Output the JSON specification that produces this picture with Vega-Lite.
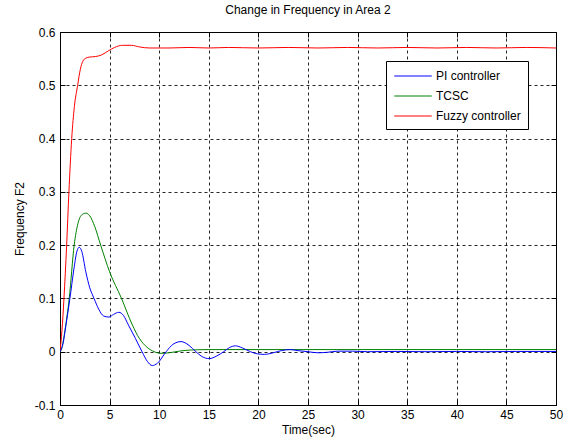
{
  "$schema": "https://vega.github.io/schema/vega-lite/v6.json",
  "width": 496,
  "height": 373,
  "autosize": {"type": "none"},
  "padding": {"left": 60, "top": 32, "right": 11, "bottom": 39},
  "background": "white",
  "title": {"text": "Change in Frequency in Area 2", "fontSize": 12, "fontWeight": "normal", "font": "Liberation Sans", "color": "black", "offset": 9, "anchor": "middle"},
  "config": {
    "view": {"stroke": "black", "strokeWidth": 1},
    "axis": {"labelFont": "Liberation Sans", "labelFontSize": 12, "labelColor": "black", "titleFont": "Liberation Sans", "titleFontSize": 12, "titleFontWeight": "normal", "titleColor": "black", "domainColor": "black", "tickColor": "black", "gridColor": "black", "gridDash": [3, 3], "gridOpacity": 0.85}
  },
  "data": {"values": [
    {"t": 0, "v": 0, "s": "Fuzzy controller"},
    {"t": 0.2, "v": 0.04, "s": "Fuzzy controller"},
    {"t": 0.4, "v": 0.1, "s": "Fuzzy controller"},
    {"t": 0.67, "v": 0.2, "s": "Fuzzy controller"},
    {"t": 0.9, "v": 0.3, "s": "Fuzzy controller"},
    {"t": 1.18, "v": 0.4, "s": "Fuzzy controller"},
    {"t": 1.45, "v": 0.46, "s": "Fuzzy controller"},
    {"t": 1.78, "v": 0.5, "s": "Fuzzy controller"},
    {"t": 2.05, "v": 0.53, "s": "Fuzzy controller"},
    {"t": 2.3, "v": 0.545, "s": "Fuzzy controller"},
    {"t": 2.6, "v": 0.551, "s": "Fuzzy controller"},
    {"t": 3.0, "v": 0.553, "s": "Fuzzy controller"},
    {"t": 3.6, "v": 0.554, "s": "Fuzzy controller"},
    {"t": 4.2, "v": 0.557, "s": "Fuzzy controller"},
    {"t": 4.9, "v": 0.565, "s": "Fuzzy controller"},
    {"t": 5.5, "v": 0.571, "s": "Fuzzy controller"},
    {"t": 6.3, "v": 0.575, "s": "Fuzzy controller"},
    {"t": 7.2, "v": 0.575, "s": "Fuzzy controller"},
    {"t": 8.0, "v": 0.572, "s": "Fuzzy controller"},
    {"t": 9.0, "v": 0.57, "s": "Fuzzy controller"},
    {"t": 11.0, "v": 0.57, "s": "Fuzzy controller"},
    {"t": 13.0, "v": 0.571, "s": "Fuzzy controller"},
    {"t": 15.0, "v": 0.57, "s": "Fuzzy controller"},
    {"t": 17.0, "v": 0.571, "s": "Fuzzy controller"},
    {"t": 20.0, "v": 0.57, "s": "Fuzzy controller"},
    {"t": 23.0, "v": 0.571, "s": "Fuzzy controller"},
    {"t": 26.0, "v": 0.57, "s": "Fuzzy controller"},
    {"t": 29.0, "v": 0.571, "s": "Fuzzy controller"},
    {"t": 32.0, "v": 0.57, "s": "Fuzzy controller"},
    {"t": 35.0, "v": 0.571, "s": "Fuzzy controller"},
    {"t": 38.0, "v": 0.57, "s": "Fuzzy controller"},
    {"t": 41.0, "v": 0.571, "s": "Fuzzy controller"},
    {"t": 44.0, "v": 0.57, "s": "Fuzzy controller"},
    {"t": 47.0, "v": 0.571, "s": "Fuzzy controller"},
    {"t": 50.0, "v": 0.57, "s": "Fuzzy controller"},

    {"t": 0, "v": 0, "s": "TCSC"},
    {"t": 0.2, "v": 0.008, "s": "TCSC"},
    {"t": 0.5, "v": 0.04, "s": "TCSC"},
    {"t": 0.93, "v": 0.1, "s": "TCSC"},
    {"t": 1.43, "v": 0.2, "s": "TCSC"},
    {"t": 1.8, "v": 0.24, "s": "TCSC"},
    {"t": 2.2, "v": 0.257, "s": "TCSC"},
    {"t": 2.6, "v": 0.26, "s": "TCSC"},
    {"t": 3.0, "v": 0.255, "s": "TCSC"},
    {"t": 3.5, "v": 0.235, "s": "TCSC"},
    {"t": 4.1, "v": 0.2, "s": "TCSC"},
    {"t": 5.0, "v": 0.15, "s": "TCSC"},
    {"t": 6.2, "v": 0.1, "s": "TCSC"},
    {"t": 7.3, "v": 0.05, "s": "TCSC"},
    {"t": 8.0, "v": 0.025, "s": "TCSC"},
    {"t": 8.8, "v": 0.008, "s": "TCSC"},
    {"t": 9.5, "v": 0.0, "s": "TCSC"},
    {"t": 10.2, "v": -0.003, "s": "TCSC"},
    {"t": 11.0, "v": -0.002, "s": "TCSC"},
    {"t": 12.0, "v": 0.001, "s": "TCSC"},
    {"t": 13.0, "v": 0.003, "s": "TCSC"},
    {"t": 15.0, "v": 0.004, "s": "TCSC"},
    {"t": 20.0, "v": 0.004, "s": "TCSC"},
    {"t": 30.0, "v": 0.004, "s": "TCSC"},
    {"t": 40.0, "v": 0.004, "s": "TCSC"},
    {"t": 50.0, "v": 0.004, "s": "TCSC"},

    {"t": 0, "v": 0, "s": "PI controller"},
    {"t": 0.3, "v": 0.015, "s": "PI controller"},
    {"t": 0.6, "v": 0.05, "s": "PI controller"},
    {"t": 1.0, "v": 0.1, "s": "PI controller"},
    {"t": 1.4, "v": 0.155, "s": "PI controller"},
    {"t": 1.7, "v": 0.188, "s": "PI controller"},
    {"t": 1.93, "v": 0.196, "s": "PI controller"},
    {"t": 2.2, "v": 0.188, "s": "PI controller"},
    {"t": 2.6, "v": 0.15, "s": "PI controller"},
    {"t": 3.0, "v": 0.12, "s": "PI controller"},
    {"t": 3.43, "v": 0.1, "s": "PI controller"},
    {"t": 3.9, "v": 0.08, "s": "PI controller"},
    {"t": 4.4, "v": 0.067, "s": "PI controller"},
    {"t": 4.93, "v": 0.065, "s": "PI controller"},
    {"t": 5.4, "v": 0.07, "s": "PI controller"},
    {"t": 5.93, "v": 0.074, "s": "PI controller"},
    {"t": 6.4, "v": 0.068, "s": "PI controller"},
    {"t": 6.9, "v": 0.05, "s": "PI controller"},
    {"t": 7.6, "v": 0.025, "s": "PI controller"},
    {"t": 8.27, "v": 0.0, "s": "PI controller"},
    {"t": 8.8, "v": -0.018, "s": "PI controller"},
    {"t": 9.3, "v": -0.026, "s": "PI controller"},
    {"t": 9.8, "v": -0.022, "s": "PI controller"},
    {"t": 10.7, "v": 0.0, "s": "PI controller"},
    {"t": 11.4, "v": 0.014, "s": "PI controller"},
    {"t": 12.2, "v": 0.019, "s": "PI controller"},
    {"t": 13.0, "v": 0.012, "s": "PI controller"},
    {"t": 13.7, "v": 0.0, "s": "PI controller"},
    {"t": 14.3, "v": -0.009, "s": "PI controller"},
    {"t": 15.05, "v": -0.013, "s": "PI controller"},
    {"t": 15.8, "v": -0.008, "s": "PI controller"},
    {"t": 16.5, "v": 0.0, "s": "PI controller"},
    {"t": 17.1, "v": 0.008, "s": "PI controller"},
    {"t": 17.7, "v": 0.011, "s": "PI controller"},
    {"t": 18.4, "v": 0.007, "s": "PI controller"},
    {"t": 19.2, "v": 0.0, "s": "PI controller"},
    {"t": 19.9, "v": -0.004, "s": "PI controller"},
    {"t": 20.6, "v": -0.005, "s": "PI controller"},
    {"t": 21.5, "v": -0.002, "s": "PI controller"},
    {"t": 22.3, "v": 0.002, "s": "PI controller"},
    {"t": 23.2, "v": 0.004, "s": "PI controller"},
    {"t": 24.0, "v": 0.002, "s": "PI controller"},
    {"t": 25.0, "v": 0.0, "s": "PI controller"},
    {"t": 26.0, "v": -0.002, "s": "PI controller"},
    {"t": 27.0, "v": -0.001, "s": "PI controller"},
    {"t": 28.0, "v": 0.001, "s": "PI controller"},
    {"t": 29.5, "v": 0.001, "s": "PI controller"},
    {"t": 31.0, "v": 0.0, "s": "PI controller"},
    {"t": 34.0, "v": 0.0005, "s": "PI controller"},
    {"t": 37.0, "v": 0.0, "s": "PI controller"},
    {"t": 40.0, "v": 0.0005, "s": "PI controller"},
    {"t": 43.0, "v": 0.0, "s": "PI controller"},
    {"t": 46.0, "v": 0.0005, "s": "PI controller"},
    {"t": 50.0, "v": 0.0005, "s": "PI controller"}
  ]},
  "resolve": {"axis": {"x": "independent", "y": "independent"}},
  "layer": [
    {
      "mark": {"type": "line", "strokeWidth": 1, "interpolate": "monotone", "clip": true},
      "encoding": {
        "x": {"field": "t", "type": "quantitative", "scale": {"domain": [0, 50], "nice": false, "zero": false},
          "axis": {"values": [0, 5, 10, 15, 20, 25, 30, 35, 40, 45, 50], "title": "Time(sec)", "grid": true, "tickSize": -5, "labelPadding": 9, "titlePadding": 4, "labelFlush": false}},
        "y": {"field": "v", "type": "quantitative", "scale": {"domain": [-0.1, 0.6], "nice": false, "zero": false},
          "axis": {"values": [-0.1, 0, 0.1, 0.2, 0.3, 0.4, 0.5, 0.6], "title": "Frequency F2", "grid": true, "tickSize": -5, "labelPadding": 10, "titlePadding": 8, "labelFlush": false,
            "labelExpr": "datum.value < 0 ? '-' + format(-datum.value, '.1~f') : format(datum.value, '.1~f')"}},
        "color": {"field": "s", "type": "nominal",
          "scale": {"domain": ["PI controller", "TCSC", "Fuzzy controller"], "range": ["#0000ff", "#008000", "#ff0000"]},
          "legend": {"title": null, "orient": "none", "legendX": 326, "legendY": 29, "strokeColor": "black", "fillColor": "white", "padding": 7, "symbolType": "M-2.5,0H2.5", "symbolSize": 225, "symbolStrokeWidth": 1, "symbolOffset": 12, "labelFontSize": 12, "labelFont": "Liberation Sans", "labelColor": "black", "labelOffset": 15, "rowPadding": 6, "cornerRadius": 0}}
      }
    },
    {
      "mark": {"type": "line", "strokeWidth": 0, "opacity": 0},
      "encoding": {
        "x": {"field": "t", "type": "quantitative", "scale": {"domain": [0, 50], "nice": false, "zero": false},
          "axis": {"orient": "top", "values": [0, 5, 10, 15, 20, 25, 30, 35, 40, 45, 50], "title": null, "labels": false, "grid": false, "domain": false, "tickSize": -5}},
        "y": {"field": "v", "type": "quantitative", "scale": {"domain": [-0.1, 0.6], "nice": false, "zero": false},
          "axis": {"orient": "right", "values": [-0.1, 0, 0.1, 0.2, 0.3, 0.4, 0.5, 0.6], "title": null, "labels": false, "grid": false, "domain": false, "tickSize": -5}},
        "detail": {"field": "s", "type": "nominal"}
      }
    }
  ]
}
